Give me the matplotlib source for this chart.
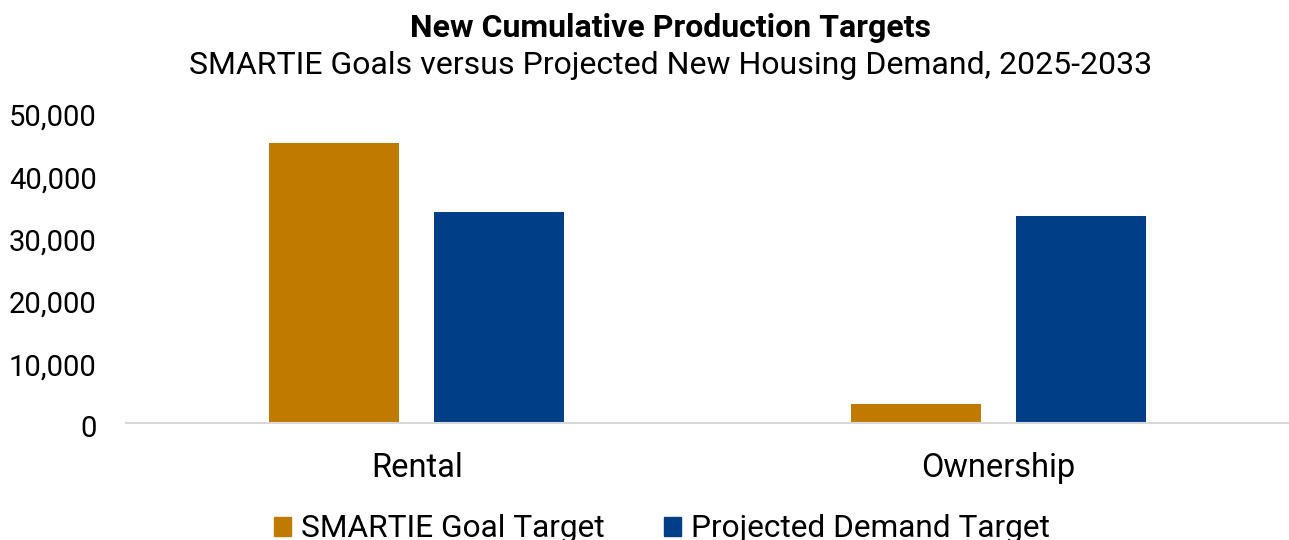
import matplotlib.pyplot as plt
import matplotlib.transforms as mtransforms
import numpy as np
from matplotlib.ticker import FuncFormatter
from matplotlib.patches import Patch

plt.rcParams['font.family'] = ['Roboto', 'DejaVu Sans']

categories = ["Rental", "Ownership"]
smartie_goal = [44900, 3050]
projected_demand = [33900, 33200]
series_names = ["SMARTIE Goal Target", "Projected Demand Target"]
colors = ["#C07A00", "#003F87"]

fig = plt.figure(figsize=(12.89, 5.4), dpi=100)
ax = fig.add_axes([0.0977, 0.2167, 0.9023, 0.5768])

x = np.arange(len(categories))
width = 0.223
offset = 0.1418
ax.bar(x - offset, smartie_goal, width, color=colors[0])
ax.bar(x + offset, projected_demand, width, color=colors[1])

ax.set_xlim(-0.5, 1.5)
ax.set_ylim(0, 50000)
ax.set_yticks(range(0, 50001, 10000))
ax.yaxis.set_major_formatter(FuncFormatter(lambda v, p: f"{int(v):,}"))
ax.set_xticks(x)
ax.set_xticklabels(categories)

for s in ["top", "right", "left"]:
    ax.spines[s].set_visible(False)
ax.spines["bottom"].set_color("#D9D9D9")
ax.spines["bottom"].set_linewidth(1.5)
ax.tick_params(axis="both", length=0, colors="#000000")
ax.tick_params(axis="y", pad=21, labelsize=21)
ax.tick_params(axis="x", pad=21, labelsize=23.5)

# labels in the original sit a few pixels below their gridline
shift = mtransforms.ScaledTranslation(0, -2.5 / 72, fig.dpi_scale_trans)
for lbl in ax.get_yticklabels():
    lbl.set_transform(lbl.get_transform() + shift)

fig.text(0.52, 0.9315, "New Cumulative Production Targets", ha="center", va="baseline",
         fontsize=23, fontweight="bold")
fig.text(0.52, 0.863, "SMARTIE Goals versus Projected New Housing Demand, 2025-2033",
         ha="center", va="baseline", fontsize=23)

handles = [Patch(color=c) for c in colors]
fig.legend(handles, series_names, loc="center", bbox_to_anchor=(0.5136, 0.0205), ncol=2,
           frameon=False, fontsize=22.8, handlelength=0.52, handleheight=0.55,
           handletextpad=0.32, columnspacing=1.9, borderpad=0)

fig.savefig("out.png", dpi=100)
